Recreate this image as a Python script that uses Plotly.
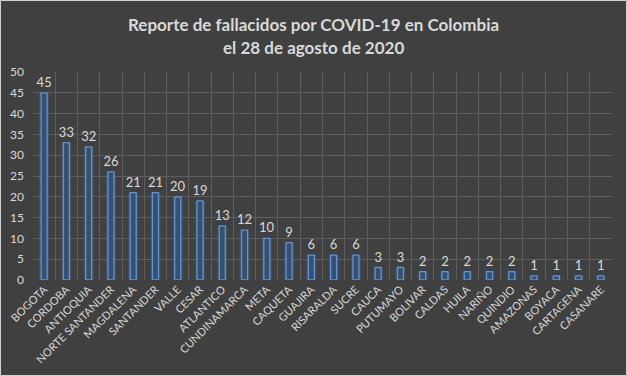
import plotly.graph_objects as go

departamentos = ["BOGOTA", "CORDOBA", "ANTIOQUIA", "NORTE SANTANDER", "MAGDALENA", "SANTANDER",
                 "VALLE", "CESAR", "ATLANTICO", "CUNDINAMARCA", "META", "CAQUETA", "GUAJIRA",
                 "RISARALDA", "SUCRE", "CAUCA", "PUTUMAYO", "BOLIVAR", "CALDAS", "HUILA",
                 "NARIÑO", "QUINDIO", "AMAZONAS", "BOYACA", "CARTAGENA", "CASANARE"]
fallecidos = [45, 33, 32, 26, 21, 21, 20, 19, 13, 12, 10, 9, 6, 6, 6, 3, 3, 2, 2, 2, 2, 2, 1, 1, 1, 1]
y_ticks = [0, 5, 10, 15, 20, 25, 30, 35, 40, 45, 50]
titulo = ["Reporte de fallacidos por COVID-19 en Colombia", "el 28 de agosto de 2020"]

txt = "#d9d9d9"
W, H = 627, 376
L, R, T, B = 33, 15, 72, 96
pw, ph = W - L - R, H - T - B

fig = go.Figure()
# glow
fig.add_trace(go.Bar(x=departamentos, y=fallecidos, width=0.45,
                     marker=dict(color="rgba(79,129,189,0.22)", line=dict(width=0)),
                     hoverinfo="skip", showlegend=False))
fig.add_trace(go.Bar(x=departamentos, y=fallecidos, width=0.27,
                     marker=dict(color="#36506f", line=dict(color="#6193d4", width=1.3)),
                     text=fallecidos, textposition="outside", cliponaxis=False,
                     constraintext="none",
                     textfont=dict(color=txt, size=13, family="Lato"),
                     showlegend=False))

annotations = []
for i, line in enumerate(titulo):
    annotations.append(dict(text="<b>" + line + "</b>", xref="paper", yref="paper",
                            x=(W / 2 - L) / pw, y=1 + (T - (24.5 + 23.5 * i)) / ph,
                            xanchor="center", yanchor="middle", showarrow=False,
                            font=dict(color=txt, size=17, family="Lato")))

fig.update_layout(
    width=W, height=H,
    paper_bgcolor="#404040", plot_bgcolor="#404040",
    barmode="overlay",
    margin=dict(l=L, r=R, t=T, b=B, autoexpand=False),
    font=dict(family="Lato", color=txt),
    annotations=annotations,
    xaxis=dict(type="category", tickson="boundaries", showgrid=True, gridcolor="#5e5e5e",
               gridwidth=1, tickangle=-45, tickfont=dict(size=11, color=txt),
               showline=False, zeroline=False, ticks="", automargin=False),
    yaxis=dict(range=[0, 50], tickvals=y_ticks, showgrid=True, gridcolor="#5e5e5e",
               gridwidth=1, zeroline=False, tickfont=dict(size=12, color=txt),
               ticklabelstandoff=8, ticks="", automargin=False),
    shapes=[dict(type="rect", xref="paper", yref="paper",
                 x0=-(L - 0.5) / pw, x1=1 + (R - 0.5) / pw,
                 y0=-(B - 0.5) / ph, y1=1 + (T - 0.5) / ph,
                 line=dict(color="#d0d0d0", width=1))],
)

fig.write_html("out.html", config={"displayModeBar": False},
               post_script="document.body.style.margin='0';document.body.style.overflow='hidden';")
